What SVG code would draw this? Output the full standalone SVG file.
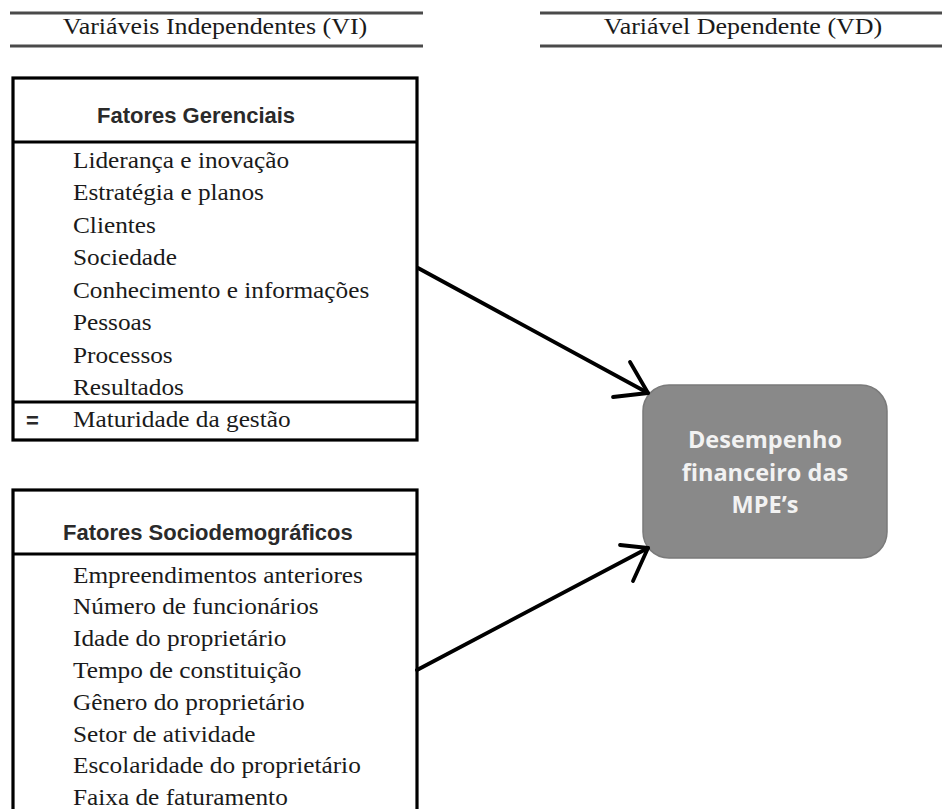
<svg xmlns="http://www.w3.org/2000/svg" width="942" height="809" viewBox="0 0 942 809">
<style>
.serif{font-family:"Liberation Serif","Times New Roman",serif;font-size:23px;fill:#1a1a1a}
.hdr{font-family:"Liberation Serif","Times New Roman",serif;font-size:23px;fill:#1a1a1a}
.title{font-family:"Liberation Sans",Arial,sans-serif;font-size:22px;font-weight:bold;fill:#2a2a2a}
.box{fill:#fff;stroke:#000;stroke-width:3.2}
.div{stroke:#000;stroke-width:3.2}
.rule{stroke:#4a4a4a;stroke-width:3}
.conn{fill:none;stroke:#000;stroke-width:3.8;stroke-linecap:round;stroke-linejoin:round}
.vd{font-family:"Open Sans","Liberation Sans",sans-serif;font-size:23.5px;font-weight:bold;fill:#f2f2f2}
</style>
<rect width="942" height="809" fill="#fff"/>
<g id="header-vi">
<line class="rule" x1="10" y1="13" x2="423" y2="13"/>
<line class="rule" x1="10" y1="46" x2="423" y2="46"/>
<g transform="translate(215,0) scale(1.13,1)"><text class="hdr" x="0" y="34" text-anchor="middle">Variáveis Independentes (VI)</text></g>
</g>
<g id="header-vd">
<line class="rule" x1="540" y1="13" x2="942" y2="13"/>
<line class="rule" x1="540" y1="46" x2="942" y2="46"/>
<g transform="translate(743,0) scale(1.13,1)"><text class="hdr" x="0" y="34" text-anchor="middle">Variável Dependente (VD)</text></g>
</g>
<g id="fatores-gerenciais">
<rect class="box" x="13" y="78" width="404" height="362"/>
<line class="div" x1="13" y1="142" x2="417" y2="142"/>
<line class="div" x1="13" y1="402" x2="417" y2="402"/>
<text class="title" x="97" y="123">Fatores Gerenciais</text>
<g transform="translate(73,0) scale(1.1,1)">
<text class="serif" x="0" y="168">Liderança e inovação</text>
<text class="serif" x="0" y="200.5">Estratégia e planos</text>
<text class="serif" x="0" y="233">Clientes</text>
<text class="serif" x="0" y="265.5">Sociedade</text>
<text class="serif" x="0" y="298">Conhecimento e informações</text>
<text class="serif" x="0" y="330.5">Pessoas</text>
<text class="serif" x="0" y="363">Processos</text>
<text class="serif" x="0" y="395.5">Resultados</text>
<text class="serif" x="0" y="427">Maturidade da gestão</text>
</g>
<text class="title" x="26" y="428">=</text>
</g>
<g id="fatores-sociodemograficos">
<rect class="box" x="13" y="490" width="404" height="340"/>
<line class="div" x1="13" y1="554" x2="417" y2="554"/>
<text class="title" x="63" y="540">Fatores Sociodemográficos</text>
<g transform="translate(73,0) scale(1.1,1)">
<text class="serif" x="0" y="583">Empreendimentos anteriores</text>
<text class="serif" x="0" y="614.5">Número de funcionários</text>
<text class="serif" x="0" y="646.5">Idade do proprietário</text>
<text class="serif" x="0" y="678">Tempo de constituição</text>
<text class="serif" x="0" y="710">Gênero do proprietário</text>
<text class="serif" x="0" y="742">Setor de atividade</text>
<text class="serif" x="0" y="773.5">Escolaridade do proprietário</text>
<text class="serif" x="0" y="805">Faixa de faturamento</text>
</g>
</g>
<g id="desempenho">
<rect x="643" y="385" width="244" height="173" rx="26" ry="26" fill="#898989" stroke="#7a7a7a" stroke-width="1.5"/>
<text class="vd" x="765" y="448" text-anchor="middle">Desempenho</text>
<text class="vd" x="765" y="481" text-anchor="middle">financeiro das</text>
<text class="vd" x="765" y="513" text-anchor="middle">MPE’s</text>
</g>
<g id="connectors">
<polyline class="conn" points="418,268 648,393"/>
<polyline class="conn" points="613,397 648,393 630,362"/>
<polyline class="conn" points="417,670 648,548"/>
<polyline class="conn" points="620,545 648,548 633,581"/>
</g>
</svg>
